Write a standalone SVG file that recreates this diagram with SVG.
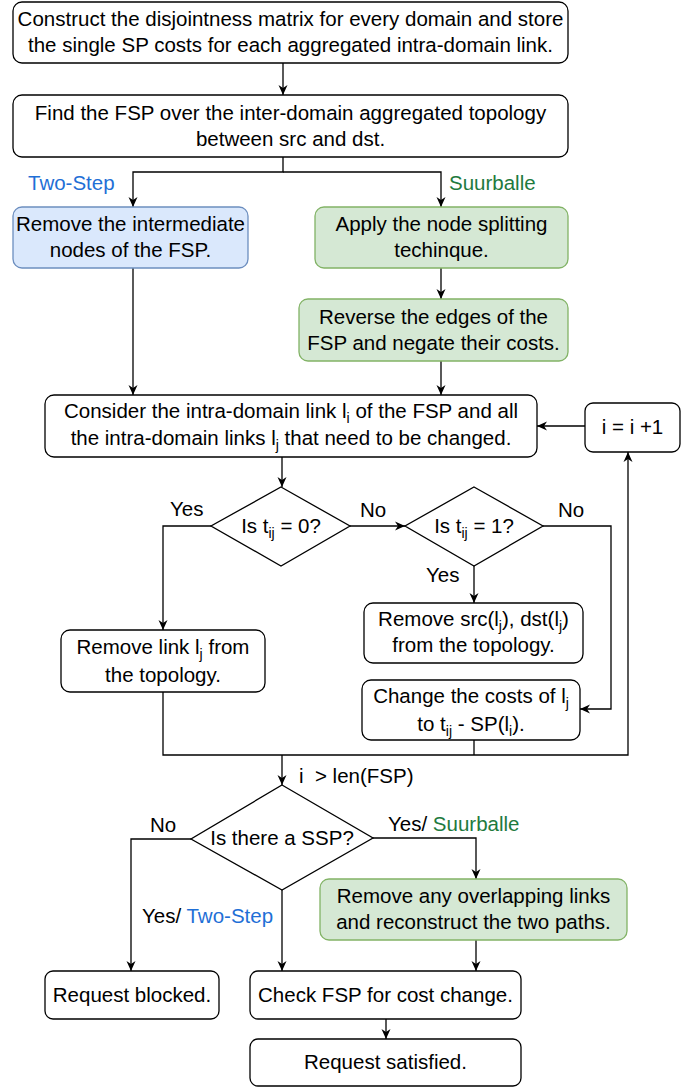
<svg xmlns="http://www.w3.org/2000/svg" width="692" height="1088" viewBox="0 0 692 1088">
<defs>
<style>
.n{fill:#ffffff;stroke:#000000;stroke-width:1.3}
.b{fill:#dae8fc;stroke:#6c8ebf;stroke-width:1.3}
.g{fill:#d5e8d4;stroke:#82b366;stroke-width:1.3}
text{font-family:"Liberation Sans",Arial,Helvetica,sans-serif;font-size:20.5px;fill:#000000}
.c{text-anchor:middle}
.sub{font-size:14px}
.blue{fill:#1f6fd6}
.green{fill:#1e7a3e}
.e{fill:none;stroke:#000000;stroke-width:1.3}
</style>
<marker id="a" viewBox="0 0 10 10" refX="10" refY="5" markerWidth="10" markerHeight="10" markerUnits="userSpaceOnUse" orient="auto">
<path d="M0,0.5 L10,5 L0,9.5 L3,5 z" fill="#000000"/>
</marker>
</defs>
<rect width="692" height="1088" fill="#ffffff"/>
<g id="connectors">
<path class="e" d="M283,63 V95" marker-end="url(#a)"/>
<path class="e" d="M283,157 V172 H133 V207" marker-end="url(#a)"/>
<path class="e" d="M283,172 H441 V207" marker-end="url(#a)"/>
<path class="e" d="M441,268 V299" marker-end="url(#a)"/>
<path class="e" d="M133,268 V395" marker-end="url(#a)"/>
<path class="e" d="M441,361 V395" marker-end="url(#a)"/>
<path class="e" d="M585,426 H537" marker-end="url(#a)"/>
<path class="e" d="M282,457 V487" marker-end="url(#a)"/>
<path class="e" d="M211,526 H163 V630" marker-end="url(#a)"/>
<path class="e" d="M350,526 H405" marker-end="url(#a)"/>
<path class="e" d="M474,566 V603" marker-end="url(#a)"/>
<path class="e" d="M543,526 H611 V709 H580" marker-end="url(#a)"/>
<path class="e" d="M163,692 V755 H628 V452" marker-end="url(#a)"/>
<path class="e" d="M474,740 V755"/>
<path class="e" d="M282,755 V785" marker-end="url(#a)"/>
<path class="e" d="M191,839 H131 V971" marker-end="url(#a)"/>
<path class="e" d="M373,838 H476 V879" marker-end="url(#a)"/>
<path class="e" d="M282,890 V971" marker-end="url(#a)"/>
<path class="e" d="M476,940 V971" marker-end="url(#a)"/>
<path class="e" d="M386,1019 V1039" marker-end="url(#a)"/>
</g>
<g id="labels">
<text x="28" y="190" class="blue">Two-Step</text>
<text x="449" y="190" class="green">Suurballe</text>
<text x="170" y="516">Yes</text>
<text x="360" y="517">No</text>
<text x="558" y="517">No</text>
<text x="426" y="582">Yes</text>
<text x="299" y="783" xml:space="preserve" style="white-space:pre">i  &gt; len(FSP)</text>
<text x="150" y="832">No</text>
<text x="388" y="831">Yes/ <tspan class="green">Suurballe</tspan></text>
<text x="142" y="923">Yes/ <tspan class="blue">Two-Step</tspan></text>
</g>
<g id="n1">
<rect class="n" x="13" y="2" width="555" height="61" rx="9"/>
<text class="c" x="290.5" y="26">Construct the disjointness matrix for every domain and store</text>
<text class="c" x="290.5" y="52">the single SP costs for each aggregated intra-domain link.</text>
</g>
<g id="n2">
<rect class="n" x="13" y="95" width="555" height="62" rx="9"/>
<text class="c" x="290.5" y="120">Find the FSP over the inter-domain aggregated topology</text>
<text class="c" x="290.5" y="146">between src and dst.</text>
</g>
<g id="n3">
<rect class="b" x="13" y="207" width="235" height="61" rx="9"/>
<text class="c" x="130.5" y="231">Remove the intermediate</text>
<text class="c" x="130.5" y="257">nodes of the FSP.</text>
</g>
<g id="n4">
<rect class="g" x="315" y="207" width="253" height="61" rx="9"/>
<text class="c" x="441.5" y="231">Apply the node splitting</text>
<text class="c" x="441.5" y="257">techinque.</text>
</g>
<g id="n5">
<rect class="g" x="299" y="299" width="269" height="62" rx="9"/>
<text class="c" x="433.5" y="324">Reverse the edges of the</text>
<text class="c" x="433.5" y="350">FSP and negate their costs.</text>
</g>
<g id="n6">
<rect class="n" x="45" y="395" width="492" height="62" rx="9"/>
<text class="c" x="291" y="418">Consider the intra-domain link l<tspan class="sub" dy="5">i</tspan><tspan dy="-5"> of the FSP and all</tspan></text>
<text class="c" x="291" y="445">the intra-domain links l<tspan class="sub" dy="5">j</tspan><tspan dy="-5"> that need to be changed.</tspan></text>
</g>
<g id="n7">
<rect class="n" x="585" y="403" width="95" height="49" rx="8"/>
<text class="c" x="632.5" y="434">i = i +1</text>
</g>
<g id="n8">
<path class="n" d="M281,487 L350,526 L281,566 L211,526 Z"/>
<text class="c" x="281" y="533">Is t<tspan class="sub" dy="5">ij</tspan><tspan dy="-5"> = 0?</tspan></text>
</g>
<g id="n9">
<path class="n" d="M474,487 L543,526 L474,566 L405,526 Z"/>
<text class="c" x="474" y="533">Is t<tspan class="sub" dy="5">ij</tspan><tspan dy="-5"> = 1?</tspan></text>
</g>
<g id="n10">
<rect class="n" x="61" y="630" width="204" height="62" rx="9"/>
<text class="c" x="163" y="654">Remove link l<tspan class="sub" dy="5">j</tspan><tspan dy="-5"> from</tspan></text>
<text class="c" x="163" y="682">the topology.</text>
</g>
<g id="n11">
<rect class="n" x="364" y="603" width="219" height="60" rx="9"/>
<text class="c" x="473.5" y="626">Remove src(l<tspan class="sub" dy="5">j</tspan><tspan dy="-5">), dst(l</tspan><tspan class="sub" dy="5">j</tspan><tspan dy="-5">)</tspan></text>
<text class="c" x="473.5" y="652">from the topology.</text>
</g>
<g id="n12">
<rect class="n" x="362" y="680" width="218" height="60" rx="9"/>
<text class="c" x="471" y="703">Change the costs of l<tspan class="sub" dy="5">j</tspan></text>
<text class="c" x="471" y="731">to t<tspan class="sub" dy="5">ij</tspan><tspan dy="-5"> - SP(l</tspan><tspan class="sub" dy="5">i</tspan><tspan dy="-5">).</tspan></text>
</g>
<g id="n13">
<path class="n" d="M282,785 L373,838 L282,890 L191,839 Z"/>
<text class="c" x="282" y="845">Is there a SSP?</text>
</g>
<g id="n14">
<rect class="g" x="320" y="879" width="307" height="61" rx="9"/>
<text class="c" x="473.5" y="903">Remove any overlapping links</text>
<text class="c" x="473.5" y="929">and reconstruct the two paths.</text>
</g>
<g id="n15">
<rect class="n" x="45" y="971" width="174" height="48" rx="8"/>
<text class="c" x="132" y="1002">Request blocked.</text>
</g>
<g id="n16">
<rect class="n" x="250" y="971" width="271" height="48" rx="8"/>
<text class="c" x="385.5" y="1002">Check FSP for cost change.</text>
</g>
<g id="n17">
<rect class="n" x="250" y="1039" width="271" height="47" rx="8"/>
<text class="c" x="385.5" y="1069">Request satisfied.</text>
</g>
</svg>
